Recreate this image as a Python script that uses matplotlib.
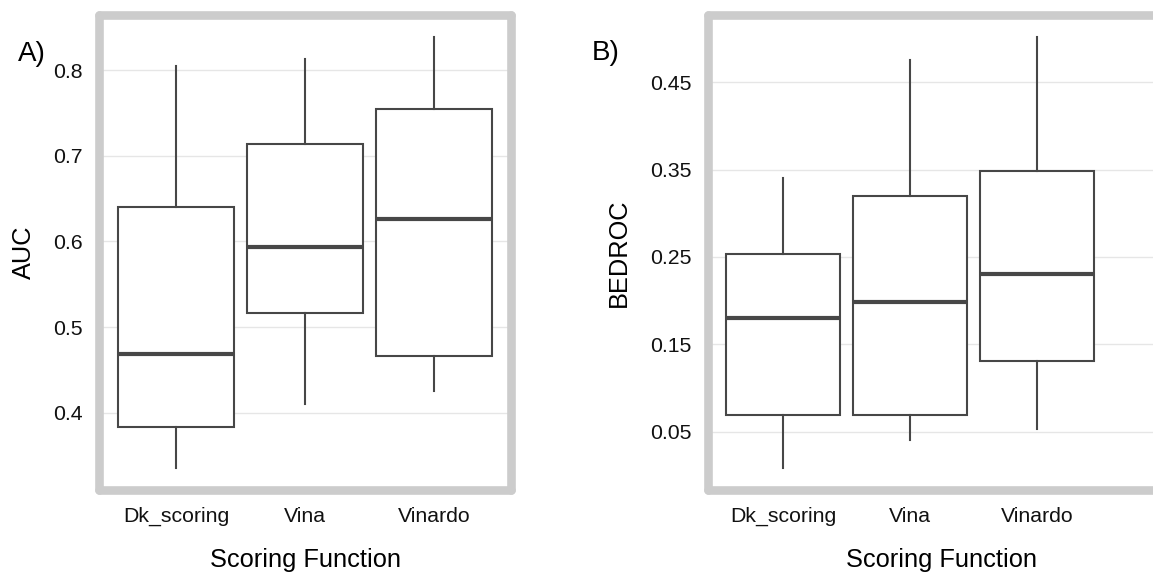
import matplotlib
matplotlib.use("Agg")
import matplotlib.pyplot as plt

plt.rcParams['font.family'] = ['Liberation Sans', 'DejaVu Sans']

# data (box stats per scoring function)
functions = ["Dk_scoring", "Vina", "Vinardo"]

auc_whislo = [0.335, 0.410, 0.426]
auc_q1 = [0.384, 0.517, 0.466]
auc_med = [0.469, 0.594, 0.626]
auc_q3 = [0.640, 0.714, 0.755]
auc_whishi = [0.805, 0.813, 0.839]
auc_ticks = [0.4, 0.5, 0.6, 0.7, 0.8]

bed_whislo = [0.008, 0.040, 0.053]
bed_q1 = [0.069, 0.069, 0.131]
bed_med = [0.180, 0.198, 0.231]
bed_q3 = [0.253, 0.320, 0.348]
bed_whishi = [0.340, 0.475, 0.502]
bed_ticks = [0.05, 0.15, 0.25, 0.35, 0.45]

W, H = 1153, 575
fig = plt.figure(figsize=(W / 100, H / 100), dpi=100)


def px_axes(l, r, t, b):
    return fig.add_axes([l / W, 1 - b / H, (r - l) / W, (b - t) / H])


def make_stats(lo, q1, med, q3, hi):
    out = []
    for i, name in enumerate(functions):
        out.append(dict(label=name, whislo=lo[i], q1=q1[i], med=med[i],
                        q3=q3[i], whishi=hi[i], fliers=[]))
    return out


line_c = "#474747"


def draw_panel(ax, stats, ticks, fmt, ylabel, xlim, ylim, ypad):
    ax.bxp(stats, positions=[1, 2, 3], widths=0.9, showcaps=False,
           showfliers=False, patch_artist=True,
           boxprops=dict(facecolor="white", edgecolor=line_c, linewidth=1.5),
           medianprops=dict(color=line_c, linewidth=3.0),
           whiskerprops=dict(color=line_c, linewidth=1.5))
    ax.set_xlim(*xlim)
    ax.set_ylim(*ylim)
    ax.set_yticks(ticks)
    ax.set_yticklabels([fmt % t for t in ticks])
    ax.set_xticks([1, 2, 3])
    ax.set_xticklabels(functions)
    ax.yaxis.grid(True, color="#E6E6E6", linewidth=1.0)
    ax.xaxis.grid(False)
    ax.set_axisbelow(True)
    for s in ax.spines.values():
        s.set_color("#CCCCCC")
        s.set_linewidth(6.2)
        s.set_capstyle("round")
    ax.tick_params(length=0, labelsize=15.3, colors="#111111")
    ax.tick_params(axis="y", pad=12)
    ax.tick_params(axis="x", pad=12)
    ax.set_xlabel("Scoring Function", fontsize=18.3, labelpad=16)
    ax.set_ylabel(ylabel, fontsize=18.3, labelpad=ypad)


# panel A
axA = px_axes(99, 511, 15, 490)
draw_panel(axA, make_stats(auc_whislo, auc_q1, auc_med, auc_q3, auc_whishi),
           auc_ticks, "%.1f", "AUC", (0.403, 3.597), (0.3099, 0.8642), 12)

# panel B (cut off on the right in the reference)
axB = px_axes(708, 1175, 15, 490)
draw_panel(axB, make_stats(bed_whislo, bed_q1, bed_med, bed_q3, bed_whishi),
           bed_ticks, "%.2f", "BEDROC", (0.407, 3 + (1175 - 1037.3) / 127),
           (-0.0167, 0.527), 14)

fig.text(18 / W, 1 - 61 / H, "A)", fontsize=20, va="baseline", ha="left")
fig.text(592 / W, 1 - 60 / H, "B)", fontsize=20, va="baseline", ha="left")

fig.savefig("out.png", dpi=100)
